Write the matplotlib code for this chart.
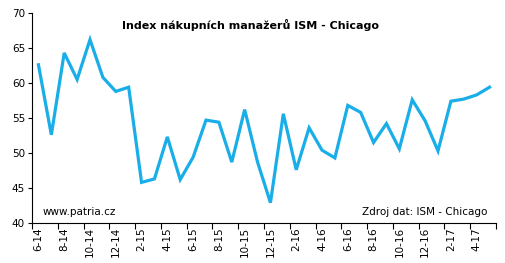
import matplotlib
matplotlib.use("Agg")
import matplotlib.pyplot as plt
import numpy as np

months = [
    "6-14", "7-14", "8-14", "9-14", "10-14", "11-14", "12-14", "1-15",
    "2-15", "3-15", "4-15", "5-15", "6-15", "7-15", "8-15", "9-15",
    "10-15", "11-15", "12-15", "1-16", "2-16", "3-16", "4-16", "5-16",
    "6-16", "7-16", "8-16", "9-16", "10-16", "11-16", "12-16", "1-17",
    "2-17", "3-17", "4-17", "5-17",
]
pmi = [
    62.6, 52.6, 64.3, 60.5, 66.2, 60.8, 58.8, 59.4,
    45.8, 46.3, 52.3, 46.2, 49.4, 54.7, 54.4, 48.7,
    56.2, 48.7, 42.9, 55.6, 47.6, 53.6, 50.4, 49.3,
    56.8, 55.8, 51.5, 54.2, 50.6, 57.6, 54.6, 50.3,
    57.4, 57.7, 58.3, 59.4,
]
y_ticks = [40, 45, 50, 55, 60, 65, 70]

plt.rcParams["font.family"] = ["DejaVu Sans"]

fig = plt.figure(figsize=(5.06, 2.63), dpi=100)
ax = fig.add_axes([32 / 506, 1 - 223 / 263, 464 / 506, 210 / 263])

x = np.arange(len(months))
ax.plot(x, pmi, color="#1aaee8", lw=2.3, solid_joinstyle="miter")

ax.set_xlim(-0.5, len(months) - 0.5)
ax.set_ylim(40, 70)
ax.set_yticks(y_ticks)
ax.tick_params(axis="y", labelsize=7.5, length=3, width=0.8, pad=2)

# boundaries every two months carry the tick marks, labels sit on the months
ax.set_xticks(np.arange(-0.5, len(months), 2))
ax.set_xticklabels([])
ax.set_xticks(x[::2], minor=True)
ax.set_xticklabels(months[::2], minor=True, rotation=90, fontsize=7.5)
ax.tick_params(axis="x", which="major", length=4, width=0.8)
ax.tick_params(axis="x", which="minor", length=0, pad=3)

for side in ("top", "right"):
    ax.spines[side].set_visible(False)
for side in ("left", "bottom"):
    ax.spines[side].set_linewidth(0.8)

fig.text(251 / 506, 1 - 25 / 263, "Index nákupních manažerů ISM - Chicago",
         ha="center", va="center", fontsize=8, fontweight="bold")
fig.text(43 / 506, 1 - 212 / 263, "www.patria.cz",
         ha="left", va="center", fontsize=7.5)
fig.text(487 / 506, 1 - 212 / 263, "Zdroj dat: ISM - Chicago",
         ha="right", va="center", fontsize=7.5)

fig.savefig("out.png", dpi=100)
